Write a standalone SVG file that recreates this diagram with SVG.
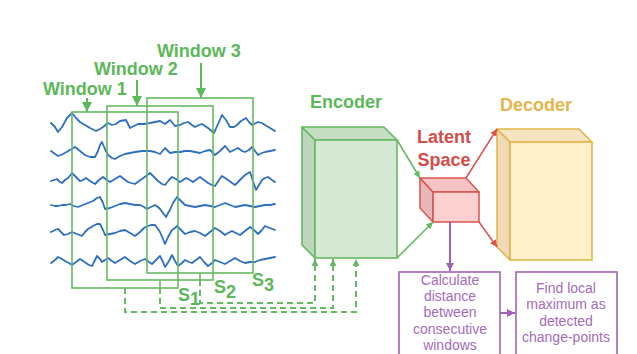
<svg xmlns="http://www.w3.org/2000/svg" width="637" height="354" viewBox="0 0 637 354">
<defs>
<style>
.wave{fill:none;stroke:#2f6fbf;stroke-width:1.8;stroke-linejoin:round;stroke-linecap:round}
.win{fill:none;stroke:#64b962;stroke-width:1.6}
.glab{font-family:"Liberation Sans",Arial,sans-serif;font-weight:bold;font-size:18px;fill:#5cb85a}
.dash{fill:none;stroke:#64b962;stroke-width:2;stroke-dasharray:6,4}
.gline{fill:none;stroke:#64b962;stroke-width:1.6}
.garrow{fill:none;stroke:#5cb85a;stroke-width:2}
.rline{fill:none;stroke:#d9534f;stroke-width:1.5}
.pline{fill:none;stroke:#a062b4;stroke-width:2}
.ptext{font-family:"Liberation Sans",Arial,sans-serif;font-size:14px;fill:#a46cbb;text-anchor:middle}
.pbox{fill:#ffffff;stroke:#a062b4;stroke-width:1.6}
</style>
<marker id="gbig" markerUnits="userSpaceOnUse" markerWidth="10" markerHeight="10" viewBox="0 0 10 10" refX="10" refY="5" orient="auto"><path d="M0,0 L10,5 L0,10 z" fill="#5cb85a"/></marker>
<marker id="gsm" markerUnits="userSpaceOnUse" markerWidth="7" markerHeight="7" viewBox="0 0 10 10" refX="10" refY="5" orient="auto"><path d="M0,0 L10,5 L0,10 z" fill="#64b962"/></marker>
<marker id="rsm" markerUnits="userSpaceOnUse" markerWidth="7" markerHeight="7" viewBox="0 0 10 10" refX="10" refY="5" orient="auto"><path d="M0,0 L10,5 L0,10 z" fill="#d9534f"/></marker>
<marker id="psm" markerUnits="userSpaceOnUse" markerWidth="8" markerHeight="8" viewBox="0 0 10 10" refX="10" refY="5" orient="auto"><path d="M0,0 L10,5 L0,10 z" fill="#a062b4"/></marker>
</defs>
<rect x="0" y="0" width="637" height="354" fill="#ffffff"/>

<g id="eeg">
<polyline class="wave" points="51,123 55,127 58,132 62,127 67,118 72,113 76,118 80,122 85,125 90,128 96,131 100,129 103,127 108,123 112,125 116,124 120,121 126,120 130,128 134,126 138,124 144,124 150,123 155,122 160,121 165,124 170,120 175,126 180,125 184,123 188,122 192,125 195,127 199,125 202,124 208,128 214,133 218,124 222,115 226,120 230,127 234,127 237,125 241,121 246,118 249,122 252,125 256,123 258,122 262,123 265,125 270,128 275,131"/>
<polyline class="wave" points="51,151 55,154 58,156 63,154 70,150 75,147 80,151 85,155 90,157 95,157 98,151 100,145 102,142 105,149 108,155 112,158 115,159 120,156 125,154 130,153 135,152 142,151 150,151 155,152 160,154 165,148 170,153 175,152 180,152 185,151 190,151 195,152 200,153 205,151 210,150 215,155 220,151 225,146 230,152 234,150 238,148 242,151 245,152 249,150 252,147 255,151 258,155 262,153 265,152 270,151 275,150"/>
<polyline class="wave" points="51,181 54,180 57,179 60,182 62,183 65,180 68,178 72,173 76,177 80,181 83,180 86,178 90,181 95,184 99,180 103,177 107,180 110,182 115,179 120,176 124,179 128,182 131,183 135,184 139,181 142,179 146,176 150,173 154,177 158,181 162,184 165,185 169,180 172,177 176,179 180,182 183,180 186,178 190,180 193,182 197,179 200,177 204,180 208,183 212,185 215,186 219,180 222,176 225,178 228,180 232,183 235,185 240,180 245,175 250,172 253,181 256,190 259,185 262,180 265,178 268,177 272,180 275,182"/>
<polyline class="wave" points="51,205 55,206 58,206 62,205 66,205 70,204 74,206 78,207 83,205 88,203 93,201 97,198 100,197 103,203 105,209 110,208 115,206 120,204 125,203 130,204 135,205 140,205 144,207 147,209 151,207 155,205 158,207 160,209 163,213 166,217 168,213 170,210 173,203 177,197 181,201 185,205 190,206 195,207 200,206 205,205 210,206 215,207 220,205 225,203 230,205 235,207 240,206 245,205 250,206 255,207 260,206 265,205 270,205 275,204"/>
<polyline class="wave" points="51,232 55,230 58,229 61,232 64,235 68,234 72,232 77,234 82,236 85,232 88,229 93,226 97,224 100,224 103,230 105,235 110,234 115,233 120,231 125,230 130,233 135,236 140,232 144,228 148,226 151,225 155,225 158,229 160,232 163,239 165,244 168,237 172,230 175,228 177,226 181,230 185,234 190,232 195,231 200,233 205,236 210,232 215,228 220,231 225,235 228,233 232,231 236,233 240,235 245,231 250,227 254,230 258,234 262,230 265,226 270,228 275,230"/>
<polyline class="wave" points="51,263 55,260 58,257 62,259 65,261 69,263 72,265 76,262 80,259 83,261 86,263 89,265 92,266 95,260 97,256 100,259 102,262 105,260 108,258 112,261 115,263 120,260 125,257 130,261 135,264 140,261 145,259 149,262 152,264 156,260 160,256 163,262 165,267 169,261 172,255 175,261 178,266 182,263 185,260 189,262 192,263 196,260 200,257 204,262 208,266 212,263 215,260 220,262 225,264 230,261 235,258 240,261 245,263 250,262 255,262 260,260 265,259 270,258 275,257"/>
</g>

<g id="window1">
<rect class="win" x="72" y="112" width="106" height="176"/>
<text class="glab" x="43" y="95">Window 1</text>
<text class="glab" x="178" y="301">S<tspan dy="4">1</tspan></text>
</g>
<g id="window2">
<rect class="win" x="107" y="106" width="106" height="174"/>
<text class="glab" x="94" y="75">Window 2</text>
<text class="glab" x="214" y="293">S<tspan dy="5">2</tspan></text>
</g>
<g id="window3">
<rect class="win" x="147" y="98" width="106" height="175"/>
<text class="glab" x="157" y="57">Window 3</text>
<text class="glab" x="252" y="286">S<tspan dy="5">3</tspan></text>
</g>

<g id="encoder">
<polygon points="302,127 315,140 315,258 302,245" fill="#bcd5bb" stroke="#64b962" stroke-width="1.6" stroke-linejoin="round"/>
<polygon points="302,127 384,127 397,140 315,140" fill="#c5ddc3" stroke="#64b962" stroke-width="1.6" stroke-linejoin="round"/>
<rect x="315" y="140" width="82" height="118" fill="#d5e8d4" stroke="#64b962" stroke-width="1.6"/>
<text class="glab" x="346" y="108" text-anchor="middle">Encoder</text>
</g>

<g id="latent">
<polygon points="420,178 433,192 433,222 420,208" fill="#e8b7b7" stroke="#d9534f" stroke-width="1.5" stroke-linejoin="round"/>
<polygon points="420,178 466,178 479,192 433,192" fill="#f5c3c3" stroke="#d9534f" stroke-width="1.5" stroke-linejoin="round"/>
<rect x="433" y="192" width="46" height="30" fill="#fdd0d0" stroke="#d9534f" stroke-width="1.5"/>
<text x="444" y="143" text-anchor="middle" font-family="Liberation Sans, Arial, sans-serif" font-weight="bold" font-size="18" fill="#d44c48">Latent</text>
<text x="444" y="166" text-anchor="middle" font-family="Liberation Sans, Arial, sans-serif" font-weight="bold" font-size="18" fill="#d44c48">Space</text>
</g>

<g id="decoder">
<polygon points="497,129 510,142 510,260 497,247" fill="#efd9b6" stroke="#e3b64c" stroke-width="1.6" stroke-linejoin="round"/>
<polygon points="497,129 579,129 592,142 510,142" fill="#f5e4c2" stroke="#e3b64c" stroke-width="1.6" stroke-linejoin="round"/>
<rect x="510" y="142" width="82" height="118" fill="#fff0cc" stroke="#e3b64c" stroke-width="1.6"/>
<text x="536" y="111" text-anchor="middle" font-family="Liberation Sans, Arial, sans-serif" font-weight="bold" font-size="18" fill="#e6b54a">Decoder</text>
</g>

<g id="calc">
<rect class="pbox" x="399" y="272" width="101" height="86"/>
<text class="ptext" x="450" y="285">Calculate</text>
<text class="ptext" x="450" y="301">distance</text>
<text class="ptext" x="450" y="317">between</text>
<text class="ptext" x="450" y="334">consecutive</text>
<text class="ptext" x="450" y="350">windows</text>
</g>

<g id="find">
<rect class="pbox" x="516" y="272" width="101" height="86"/>
<text class="ptext" x="566" y="293">Find local</text>
<text class="ptext" x="566" y="309">maximum as</text>
<text class="ptext" x="566" y="326">detected</text>
<text class="ptext" x="566" y="342">change-points</text>
</g>

<g id="connectors">
<line class="garrow" x1="87" y1="98" x2="87" y2="112" marker-end="url(#gbig)"/>
<line class="garrow" x1="137" y1="80" x2="137" y2="106" marker-end="url(#gbig)"/>
<line class="garrow" x1="201" y1="63" x2="201" y2="98" marker-end="url(#gbig)"/>
<line class="gline" x1="200" y1="273" x2="200" y2="280"/>
<line class="gline" x1="160" y1="280" x2="160" y2="288"/>
<path class="dash" d="M125,288 V312 H356 V259" marker-end="url(#gsm)"/>
<path class="dash" d="M160,288 V308 H333 V259" marker-end="url(#gsm)"/>
<path class="dash" d="M200,280 V303 H315 V259" marker-end="url(#gsm)"/>
<line class="gline" x1="397" y1="140" x2="420" y2="178" marker-end="url(#gsm)"/>
<line class="gline" x1="397" y1="258" x2="433" y2="222" marker-end="url(#gsm)"/>
<line class="rline" x1="466" y1="178" x2="497" y2="129" marker-end="url(#rsm)"/>
<line class="rline" x1="479" y1="222" x2="497" y2="247" marker-end="url(#rsm)"/>
<line class="pline" x1="450" y1="222" x2="450" y2="271" marker-end="url(#psm)"/>
<line class="pline" x1="500" y1="313" x2="515" y2="313" marker-end="url(#psm)"/>
</g>
</svg>
